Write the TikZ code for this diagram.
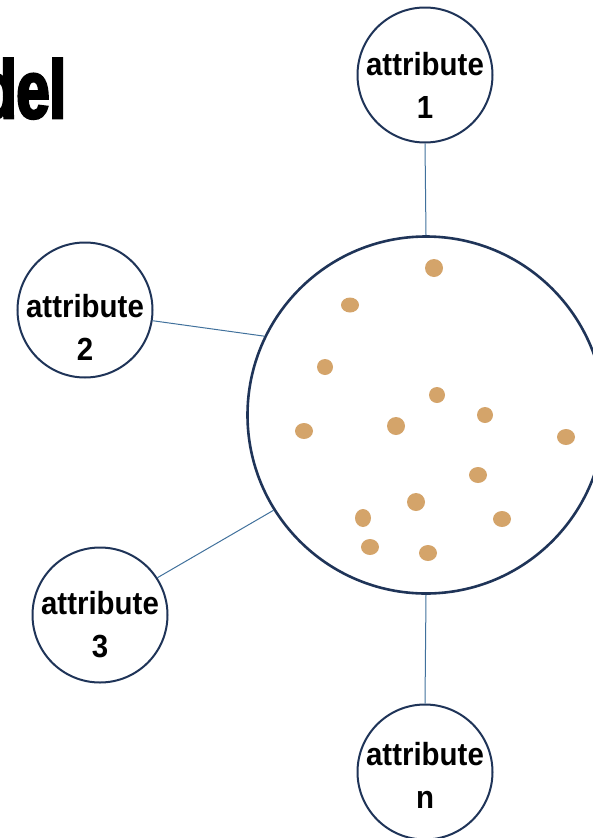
\documentclass[tikz,border=0pt]{standalone}
\usepackage{fontspec}
\setmainfont[FakeStretch=0.92]{Liberation Sans}
\newfontfamily\titlefont[FakeStretch=0.72,FakeBold=3.5]{Liberation Sans}
\definecolor{navy}{HTML}{1F3458}
\definecolor{steel}{HTML}{41719C}
\definecolor{dotc}{HTML}{D4A46A}
\tikzset{
  attr/.style={circle, draw=navy, line width=2pt, minimum size=135pt, inner sep=0pt, fill=white},
  attrtext/.style={font=\fontsize{32}{43}\selectfont\bfseries, align=center, anchor=base, inner sep=0pt},
  big/.style={circle, draw=navy, line width=2.6pt, minimum size=357pt, inner sep=0pt},
  conn/.style={draw=steel, line width=1pt},
  grain/.style={fill=dotc, draw=none}
}
\begin{document}
\begin{tikzpicture}[x=1pt,y=-1pt]
\useasboundingbox (0,0) rectangle (593,838);
\node[anchor=base east, inner sep=0pt, font=\titlefont\fontsize{82}{82}\selectfont\bfseries] (title) at (66,118) {del};
\node[big] (core) at (426,415) {};
\node[attr] (a1) at (425,75) {};
\node[attr] (a2) at (85,310) {};
\node[attr] (a3) at (100,615) {};
\node[attr] (an) at (425,772) {};
\node[attrtext] (t1) at (425,118) {attribute\\1};
\node[attrtext] (t2) at (85,360) {attribute\\2};
\node[attrtext] (t3) at (100,657) {attribute\\3};
\node[attrtext] (tn) at (425,808) {attribute\\n};
\draw[conn] (a1.south) -- (core.north);
\draw[conn] (a2.-9) -- (core.154);
\draw[conn] (a3.33) -- (core.212.6);
\draw[conn] (an.north) -- (core.south);
\foreach \x/\y/\rx/\ry in {434/268/9/9, 350/305/9/7.5, 325/367/8/8, 437/395/8/8, 485/415/8/8,
  304/431/9/8, 396/426/9/9, 566/437/9/8, 478/475/9/8, 416/502/9/9, 363/518/8/9,
  502/519/9/8, 370/547/9/8, 428/553/9/8}{
  \fill[grain] (\x,\y) ellipse [x radius=\rx pt, y radius=\ry pt];
}
\end{tikzpicture}
\end{document}
